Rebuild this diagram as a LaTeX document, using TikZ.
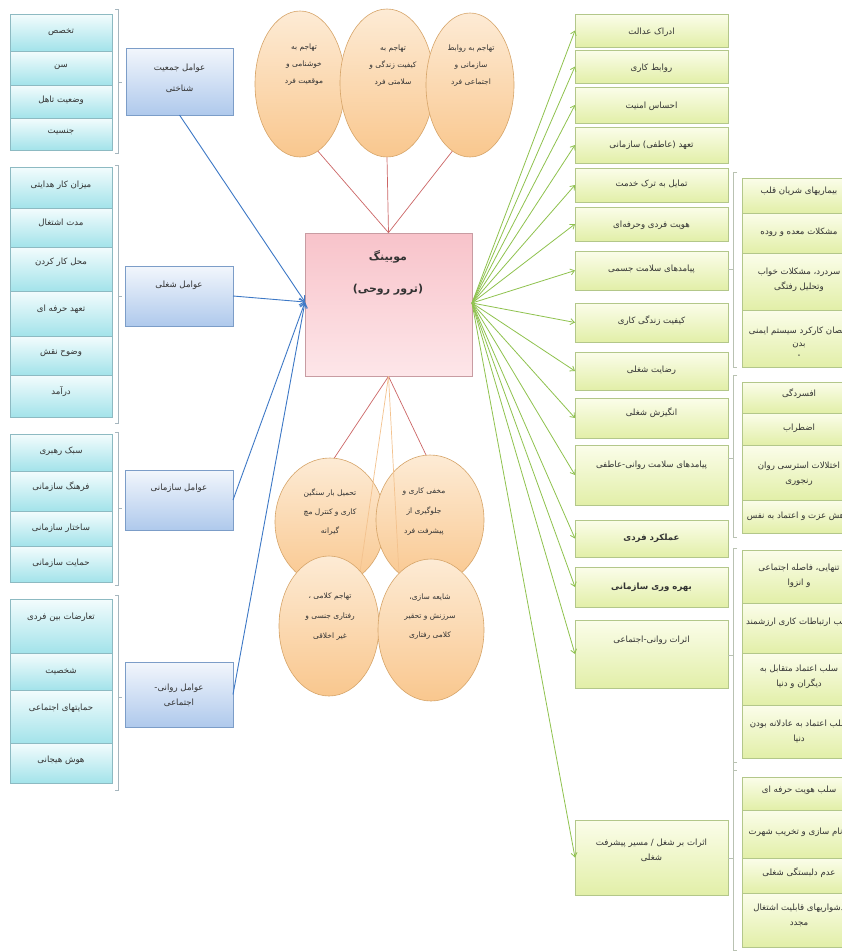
\documentclass[tikz,border=0pt]{standalone}
\usepackage{fontspec}
\newfontfamily\arabicfont[Script=Arabic]{DejaVu Sans}
\TeXXeTstate=1
\usetikzlibrary{arrows.meta,shadows,calc,shapes.geometric}
\newcommand\RL[1]{\beginR #1\endR}
\definecolor{LTop}{HTML}{F3FCFD}\definecolor{LBot}{HTML}{A3E3EA}\definecolor{LBord}{HTML}{8DBAC2}
\definecolor{HTop}{HTML}{F2F6FC}\definecolor{HBot}{HTML}{AFC9EC}\definecolor{HBord}{HTML}{7C9DC8}
\definecolor{RTop}{HTML}{FBFDEA}\definecolor{RBot}{HTML}{E2EFA8}\definecolor{RBord}{HTML}{B3C78A}
\definecolor{CTop}{HTML}{F8C3CA}\definecolor{CBot}{HTML}{FDE6E9}\definecolor{CBord}{HTML}{C89CA2}
\definecolor{ETop}{HTML}{FDEBD5}\definecolor{EBot}{HTML}{F9C78E}\definecolor{EBord}{HTML}{D6A468}
\definecolor{GArr}{HTML}{8FC24E}\definecolor{BArr}{HTML}{3D78C6}
\definecolor{RedL}{HTML}{CC6666}\definecolor{OrL}{HTML}{F3C28E}
\definecolor{BrL}{HTML}{A6B6BE}\definecolor{BrR}{HTML}{B9C2B2}
\tikzset{
  txt/.style={font=\arabicfont\fontsize{8.6}{15}\selectfont, align=center, inner sep=0pt, text=black!80},
  etxt/.style={txt, font=\arabicfont\fontsize{7.5}{18}\selectfont},
  basebox/.style={rectangle, inner sep=0pt, outer sep=0pt, line width=0.6pt,
     drop shadow={shadow xshift=0.3pt, shadow yshift=-1.3pt, opacity=0.45, fill=black!60}},
  lbox/.style={basebox, draw=LBord, top color=LTop, bottom color=LBot},
  hbox/.style={basebox, draw=HBord, top color=HTop, bottom color=HBot},
  rbox/.style={basebox, draw=RBord, top color=RTop, bottom color=RBot},
  cbox/.style={rectangle, inner sep=0pt, draw=CBord, line width=0.7pt, top color=CTop, bottom color=CBot},
  ell/.style={ellipse, inner sep=0pt, draw=EBord, line width=0.6pt, top color=ETop, bottom color=EBot},
  garr/.style={draw=GArr, line width=0.8pt, -{Straight Barb[length=4pt,width=6pt]}},
  barr/.style={draw=BArr, line width=0.9pt, -{Straight Barb[length=5pt,width=7pt]}},
  redl/.style={draw=RedL, line width=0.7pt},
  orl/.style={draw=OrL, line width=0.7pt},
  brl/.style={draw=BrL, line width=0.8pt},
  brr/.style={draw=BrR, line width=0.8pt},
}
% style, name, x1, y1, x2, y2, text-y, text
\newcommand\bx[8]{%
  \pgfmathsetmacro\bxw{#5-#3}%
  \pgfmathsetmacro\bxh{#6-#4}%
  \node[#1, minimum width=\bxw pt, minimum height=\bxh pt] (#2) at ({(#3+#5)/2},{(#4+#6)/2}) {};
  \node[txt] (#2t) at ({(#3+#5)/2},#7) {#8};%
}
\newcommand\mylbr[4]{% x, top, bottom, mid
  \draw[brl] (#1-3,#2) -- (#1,#2) -- (#1,#3) -- (#1-3,#3);
  \draw[brl] (#1,#4) -- (#1+4,#4);}
\newcommand\myrbr[4]{% x, top, bottom, mid
  \draw[brr] (#1+4,#2) -- (#1,#2) -- (#1,#3) -- (#1+4,#3);
  \draw[brr] (#1,#4) -- (#1-5,#4);}
\begin{document}
\begin{tikzpicture}[x=1pt,y=-1pt]
\useasboundingbox (0,0) rectangle (842,951);
\clip (0,0) rectangle (842,951);
\fill[white] (0,0) rectangle (842,951);

% ---------- left group 1
\bx{lbox}{l11}{10}{14}{112}{51}{32}{\RL{تخصص}}
\bx{lbox}{l12}{10}{51}{112}{85}{67}{\RL{سن}}
\bx{lbox}{l13}{10}{85}{112}{118}{100}{\RL{وضعیت تاهل}}
\bx{lbox}{l14}{10}{118}{112}{150}{132}{\RL{جنسیت}}
\mylbr{118}{9}{153}{82}
\bx{hbox}{h1}{126}{48}{233}{115}{78}{\RL{عوامل جمعیت}\\[6pt]\RL{شناختی}}
% ---------- left group 2
\bx{lbox}{l21}{10}{167}{112}{208}{185}{\RL{میزان کار هدایتی}}
\bx{lbox}{l22}{10}{208}{112}{247}{223}{\RL{مدت اشتغال}}
\bx{lbox}{l23}{10}{247}{112}{291}{262}{\RL{محل کار کردن}}
\bx{lbox}{l24}{10}{291}{112}{336}{309}{\RL{تعهد حرفه ای}}
\bx{lbox}{l25}{10}{336}{112}{375}{353}{\RL{وضوح نقش}}
\bx{lbox}{l26}{10}{375}{112}{417}{392}{\RL{درآمد}}
\mylbr{118}{165}{423}{296}
\bx{hbox}{h2}{125}{266}{233}{326}{285}{\RL{عوامل شغلی}}
% ---------- left group 3
\bx{lbox}{l31}{10}{434}{112}{471}{451}{\RL{سبک رهبری}}
\bx{lbox}{l32}{10}{471}{112}{511}{487}{\RL{فرهنگ سازمانی}}
\bx{lbox}{l33}{10}{511}{112}{546}{528}{\RL{ساختار سازمانی}}
\bx{lbox}{l34}{10}{546}{112}{582}{563}{\RL{حمایت سازمانی}}
\mylbr{118}{432}{585}{508}
\bx{hbox}{h3}{125}{470}{233}{530}{488}{\RL{عوامل سازمانی}}
% ---------- left group 4
\bx{lbox}{l41}{10}{599}{112}{653}{617}{\RL{تعارضات بین فردی}}
\bx{lbox}{l42}{10}{653}{112}{690}{672}{\RL{شخصیت}}
\bx{lbox}{l43}{10}{690}{112}{743}{708}{\RL{حمایتهای اجتماعی}}
\bx{lbox}{l44}{10}{743}{112}{783}{760}{\RL{هوش هیجانی}}
\mylbr{118}{595}{790}{697}
\bx{hbox}{h4}{125}{662}{233}{727}{695}{\RL{عوامل روانی-}\\\RL{اجتماعی}}

% ---------- centre
\node[cbox, minimum width=167pt, minimum height=143pt] (c) at (388.5,304.5) {};
\node[txt, font=\arabicfont\bfseries\fontsize{11}{14}\selectfont] (ct1) at (388,257) {\RL{موبینگ}};
\node[txt, font=\arabicfont\bfseries\fontsize{11}{14}\selectfont] (ct2) at (388,290) {\RL{(ترور روحی)}};
\coordinate (cin) at (305,302);
\coordinate (cout) at (472,303);

% ---------- top ellipses
\node[ell, minimum width=90pt, minimum height=146pt] (e1) at (300,84) {};
\node[ell, minimum width=94pt, minimum height=148pt] (e2) at (387,83) {};
\node[ell, minimum width=88pt, minimum height=144pt] (e3) at (470,85) {};
\node[etxt, font=\arabicfont\fontsize{7.5}{17}\selectfont] (e1t) at (304,65) {\RL{تهاجم به}\\\RL{خوشنامی و}\\\RL{موقعیت فرد}};
\node[etxt, font=\arabicfont\fontsize{7.5}{17}\selectfont] (e2t) at (393,66) {\RL{تهاجم به}\\\RL{کیفیت زندگی و}\\\RL{سلامتی فرد}};
\node[etxt, font=\arabicfont\fontsize{7.5}{17}\selectfont] (e3t) at (471,66) {\RL{تهاجم به روابط}\\\RL{سازمانی و}\\\RL{اجتماعی فرد}};
\draw[redl] (e1.-75) -- (c.north);
\draw[redl] (e2.south) -- (c.north);
\draw[redl] (e3.-105) -- (c.north);

% ---------- bottom ellipses
\draw[redl] (c.south) -- (333,460);
\draw[redl] (c.south) -- (427,457);
\node[ell, minimum width=110pt, minimum height=128pt] (e4) at (330,522) {};
\node[ell, minimum width=108pt, minimum height=130pt] (e5) at (430,520) {};
\draw[orl] (c.south) -- (360,572);
\draw[orl] (c.south) -- (399,574);
\node[ell, minimum width=100pt, minimum height=140pt] (e6) at (329,626) {};
\node[ell, minimum width=106pt, minimum height=142pt] (e7) at (431,630) {};
\node[etxt, font=\arabicfont\fontsize{7.5}{19}\selectfont] (e4t) at (330,512) {\RL{تحمیل بار سنگین}\\\RL{کاری و کنترل مچ}\\\RL{گیرانه}};
\node[etxt, font=\arabicfont\fontsize{7.5}{20}\selectfont] (e5t) at (424,512) {\RL{مخفی کاری و}\\\RL{جلوگیری از}\\\RL{پیشرفت فرد}};
\node[etxt, font=\arabicfont\fontsize{7.5}{20}\selectfont] (e6t) at (330,617) {\RL{تهاجم کلامی ،}\\\RL{رفتاری جنسی و}\\\RL{غیر اخلاقی}};
\node[etxt, font=\arabicfont\fontsize{7.5}{19}\selectfont] (e7t) at (430,617) {\RL{شایعه سازی،}\\\RL{سرزنش و تحقیر}\\\RL{کلامی رفتاری}};

% ---------- right column
\bx{rbox}{r1}{575}{14}{728}{47}{32}{\RL{ادراک عدالت}}
\bx{rbox}{r2}{575}{50}{728}{83}{68}{\RL{روابط کاری}}
\bx{rbox}{r3}{575}{87}{728}{123}{106}{\RL{احساس امنیت}}
\bx{rbox}{r4}{575}{127}{728}{163}{145}{\RL{تعهد (عاطفی) سازمانی}}
\bx{rbox}{r5}{575}{168}{728}{202}{184}{\RL{تمایل به ترک خدمت}}
\bx{rbox}{r6}{575}{207}{728}{241}{225}{\RL{هویت فردی وحرفه‌ای}}
\bx{rbox}{r7}{575}{251}{728}{290}{269}{\RL{پیامدهای سلامت جسمی}}
\bx{rbox}{r8}{575}{303}{728}{342}{321}{\RL{کیفیت زندگی کاری}}
\bx{rbox}{r9}{575}{352}{728}{390}{370}{\RL{رضایت شغلی}}
\bx{rbox}{r10}{575}{398}{728}{438}{413}{\RL{انگیزش شغلی}}
\bx{rbox}{r11}{575}{445}{728}{505}{465}{\RL{پیامدهای سلامت روانی-عاطفی}}
\bx{rbox}{r12}{575}{520}{728}{557}{538}{\bfseries\RL{عملکرد فردی}}
\bx{rbox}{r13}{575}{567}{728}{607}{587}{\bfseries\RL{بهره وری سازمانی}}
\bx{rbox}{r14}{575}{620}{728}{688}{640}{\RL{اثرات روانی-اجتماعی}}
\bx{rbox}{r15}{575}{820}{728}{895}{850}{\RL{اثرات بر شغل / مسیر پیشرفت}\\\RL{شغلی}}

% ---------- far right group A
\myrbr{733}{172}{367}{269}
\bx{rbox}{a1}{742}{178}{856}{213}{191}{\RL{بیماریهای شریان قلب}}
\bx{rbox}{a2}{742}{213}{856}{253}{232}{\RL{مشکلات معده و روده}}
\bx{rbox}{a3}{742}{253}{856}{310}{280}{\RL{سردرد، مشکلات خواب}\\\RL{وتحلیل رفتگی}}
\bx{rbox}{a4}{742}{310}{856}{367}{342}{\RL{نقصان کارکرد سیستم ایمنی}\\[-2pt]\RL{بدن}\\[-4pt]{\tiny •}}
% ---------- far right group B
\myrbr{733}{375}{537}{458}
\bx{rbox}{b1}{742}{382}{856}{413}{394}{\RL{افسردگی}}
\bx{rbox}{b2}{742}{413}{856}{445}{428}{\RL{اضطراب}}
\bx{rbox}{b3}{742}{445}{856}{500}{474}{\RL{اختلالات استرسی روان}\\\RL{رنجوری}}
\bx{rbox}{b4}{742}{500}{856}{533}{516}{\RL{کاهش عزت و اعتماد به نفس}}
% ---------- far right group C
\myrbr{733}{548}{770}{655}
\bx{rbox}{c1}{742}{550}{856}{603}{576}{\RL{تنهایی، فاصله اجتماعی}\\\RL{و انزوا}}
\bx{rbox}{c2}{742}{603}{856}{653}{622}{\RL{سلب ارتباطات کاری ارزشمند}}
\bx{rbox}{c3}{742}{653}{856}{705}{677}{\RL{سلب اعتماد متقابل به}\\\RL{دیگران و دنیا}}
\bx{rbox}{c4}{742}{705}{856}{758}{731}{\RL{سلب اعتماد به عادلانه بودن}\\\RL{دنیا}}
% ---------- far right group D
\myrbr{733}{762}{950}{858}
\bx{rbox}{d1}{742}{777}{856}{810}{790}{\RL{سلب هویت حرفه ای}}
\bx{rbox}{d2}{742}{810}{856}{858}{832}{\RL{بدنام سازی و تخریب شهرت}}
\bx{rbox}{d3}{742}{858}{856}{893}{873}{\RL{عدم دلبستگی شغلی}}
\bx{rbox}{d4}{742}{893}{856}{947}{915}{\RL{دشواریهای قابلیت اشتغال}\\\RL{مجدد}}

% ---------- connectors
\draw[barr] (h1.south) -- (cin);
\draw[barr] (h2.east) -- (cin);
\draw[barr] (h3.east) -- (cin);
\draw[barr] (h4.east) -- (cin);
\foreach \i in {1,...,15} \draw[garr] (cout) -- (r\i.west);
\end{tikzpicture}
\end{document}
